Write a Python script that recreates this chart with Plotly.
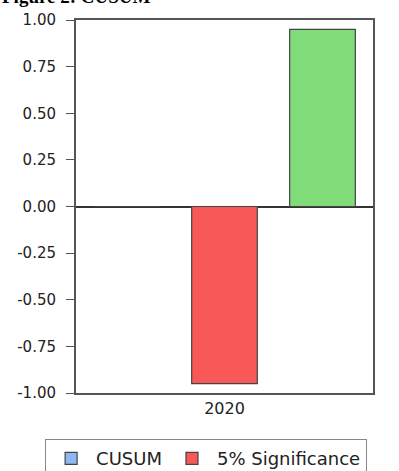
import plotly.graph_objects as go

# Data
categories = ["2020"]
cusum = [0.0]
lower_bound = [-0.95]
upper_bound = [0.95]
y_ticks = [1.0, 0.75, 0.5, 0.25, 0.0, -0.25, -0.5, -0.75, -1.0]
y_tick_labels = ["1.00", "0.75", "0.50", "0.25", "0.00", "-0.25", "-0.50", "-0.75", "-1.00"]

outline = dict(color="#444444", width=1.2)

fig = go.Figure()
fig.add_trace(go.Bar(x=categories, y=cusum, name="CUSUM",
                     marker=dict(color="#8db8f4", line=outline)))
fig.add_trace(go.Bar(x=categories, y=lower_bound, name="5% Significance",
                     marker=dict(color="#f85858", line=outline)))
fig.add_trace(go.Bar(x=categories, y=upper_bound, name="5% Significance ",
                     marker=dict(color="#80dc78", line=outline), showlegend=False))

fig.update_layout(
    width=399, height=471,
    margin=dict(l=76, r=26, t=20, b=78, autoexpand=False),
    paper_bgcolor="white", plot_bgcolor="white",
    barmode="group", bargap=0.01, bargroupgap=0.33,
    font=dict(family="DejaVu Sans, Arial, sans-serif", size=14, color="#222222"),
    showlegend=True,
    legend=dict(orientation="h", x=-0.104, y=-0.124, xanchor="left", yanchor="top",
                bordercolor="#888888", borderwidth=1, bgcolor="white",
                font=dict(size=18, color="#222222"), itemwidth=40,
                traceorder="normal"),
    xaxis=dict(showline=True, linecolor="#555555", linewidth=2, mirror=True,
               ticks="", showgrid=False, tickfont=dict(size=16)),
    yaxis=dict(range=[-1.0, 1.0], tickvals=y_ticks, ticktext=y_tick_labels,
               showline=True, linecolor="#555555", linewidth=2, mirror=True,
               ticks="outside", ticklen=8, tickcolor="#555555", showgrid=False,
               ticklabelstandoff=7,
               zeroline=True, zerolinecolor="#333333", zerolinewidth=1.5,
               tickfont=dict(size=15)),
    annotations=[dict(text="<b>Figure 2: CUSUM</b>", xref="paper", yref="paper",
                      x=-0.255, y=1.0, xanchor="left", yanchor="bottom", yshift=11,
                      showarrow=False,
                      font=dict(family="Liberation Serif, Times New Roman, serif",
                                size=19, color="black"))],
)

fig.write_html("out.html")
